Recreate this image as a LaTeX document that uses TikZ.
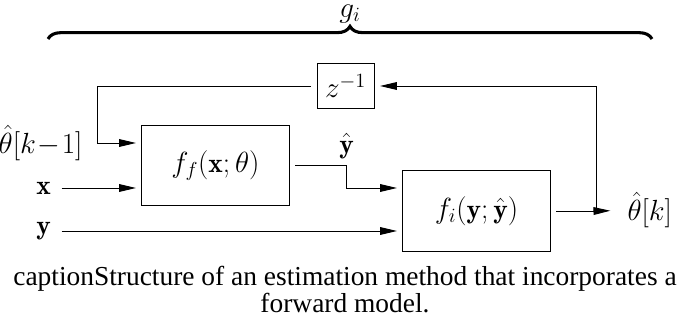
\documentclass[tikz,border=0pt]{standalone}
\usepackage{amsmath,amssymb}
\usepackage{bm}
\usepackage{fontspec}
\usetikzlibrary{arrows.meta,decorations.pathreplacing,positioning}
\newfontfamily\capfont{Liberation Serif}

\begin{document}
\begin{tikzpicture}[x=0.025cm, y=-0.025cm,
    every node/.style={font=\fontsize{19.5}{23}\selectfont, inner sep=3pt},
    block/.style={draw, line width=0.7pt, outer sep=4.3pt},
    sig/.style={-{Triangle[length=12pt,width=5.5pt]}, line width=0.7pt},
    wire/.style={line width=0.7pt}]
\useasboundingbox (0,0) rectangle (679,327);
% Blocks
\node[block, minimum width=3.675cm, minimum height=1.975cm] (ff) at (215.5,165.5) {$f_f(\mathbf{x};\theta)$};
\node[block, minimum width=3.675cm, minimum height=2cm] (fi) at (476.5,211) {$f_i(\mathbf{y};\hat{\mathbf{y}})$};
\node[block, minimum width=1.425cm, minimum height=1.125cm] (zinv) at (345.5,86) {$z^{-1}$};
% Signals
\node[anchor=east] (thkm1) at (87,143) {$\hat{\theta}[k\!-\!1]$};
\node (xin) at (43.5,188) {$\mathbf{x}$};
\node (yin) at (43.5,231) {$\mathbf{y}$};
\node (yhat) at (346.5,146) {$\hat{\mathbf{y}}$};
\node[anchor=west] (thk) at (623,210) {$\hat{\theta}[k]$};
% Brace over the whole estimator
\draw[decorate, decoration={brace, amplitude=9pt}, line width=2.2pt] (48,39) -- (652,39);
\node[inner sep=0pt] (gi) at (350,14) {$g_i$};
% Corners
\coordinate (junc) at (596,211);
\coordinate (fbk) at (97,143);
\coordinate (ybend) at (346,188);
% Arrows
\draw[sig, shorten <=4.5pt] (xin) -- (xin -| ff.west);
\draw[sig, shorten <=4.5pt] (yin) -- (yin -| fi.west);
\draw[sig] (ff.east) -| (ybend) -- (ybend -| fi.west);
\draw[wire] (fi.east) -- (junc);
\draw[sig, shorten >=9pt] (junc) -- (thk);
\draw[sig] (junc) |- (zinv.east);
\draw[sig] (zinv.west) -| (fbk) -- (fbk -| ff.west);
% Caption
\node[anchor=north, inner sep=0pt, align=center, font=\capfont\fontsize{19.5}{17.8}\selectfont] (cap) at (345,266)
  {captionStructure of an estimation method that incorporates a\\forward model.};
\end{tikzpicture}
\end{document}
